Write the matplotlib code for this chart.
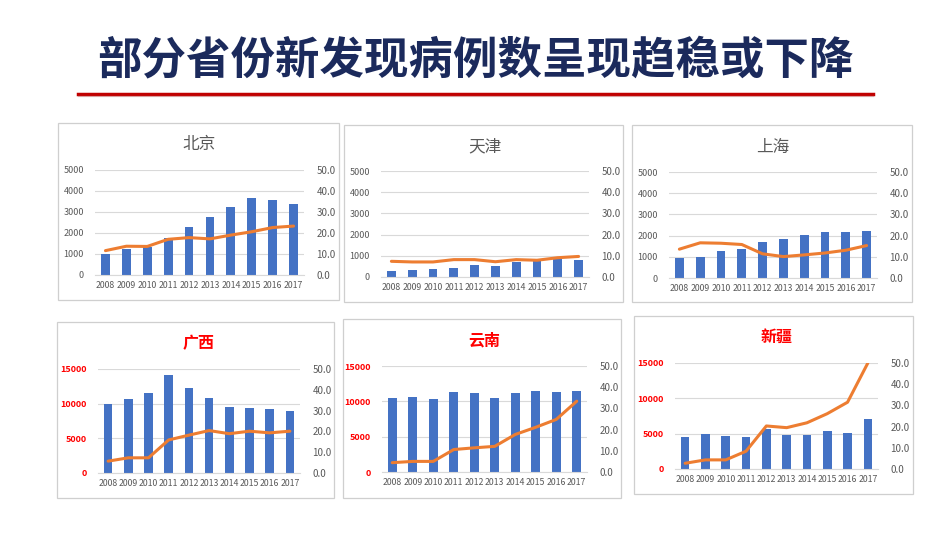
import numpy as np
import matplotlib
matplotlib.use("Agg")
from matplotlib import pyplot as plt
from matplotlib.patches import Rectangle

plt.rcParams['font.family'] = ['Noto Sans CJK SC', 'DejaVu Sans']

years = ["2008", "2009", "2010", "2011", "2012", "2013", "2014", "2015", "2016", "2017"]

# new cases (bars, left axis) and rate (line, right axis)
beijing_cases = [980, 1250, 1350, 1780, 2290, 2770, 3250, 3670, 3560, 3380]
beijing_rate = [11.6, 13.7, 13.6, 17.0, 17.8, 17.2, 19.0, 20.6, 22.6, 23.3]
tianjin_cases = [270, 330, 390, 440, 550, 500, 710, 740, 900, 820]
tianjin_rate = [7.4, 7.1, 7.1, 8.2, 8.2, 7.2, 8.2, 7.9, 9.1, 9.7]
shanghai_cases = [930, 1010, 1290, 1370, 1690, 1830, 2020, 2160, 2160, 2220]
shanghai_rate = [13.6, 16.6, 16.4, 15.8, 11.4, 10.1, 10.9, 11.8, 13.1, 15.3]
guangxi_cases = [9950, 10670, 11580, 14160, 12200, 10860, 9470, 9420, 9190, 8900]
guangxi_rate = [5.7, 7.3, 7.3, 15.9, 18.2, 20.4, 18.9, 20.1, 19.3, 20.1]
yunnan_cases = [10470, 10620, 10380, 11330, 11140, 10520, 11190, 11520, 11370, 11470]
yunnan_rate = [4.4, 5.0, 5.0, 10.6, 11.4, 12.1, 17.7, 21.1, 24.8, 33.4]
xinjiang_cases = [4510, 4890, 4650, 4510, 5700, 4840, 4790, 5360, 5130, 7020]
xinjiang_rate = [2.7, 4.3, 4.3, 8.4, 20.3, 19.5, 21.8, 26.1, 31.5, 50.0]

W, H = 950, 535
fig = plt.figure(figsize=(9.5, 5.35), dpi=100)
fig.patch.set_facecolor("white")

def fx(x):
    return x / W

def fy(y):
    return 1 - y / H

# title and red rule
fig.text(fx(475), fy(60), "部分省份新发现病例数呈现趋稳或下降", ha="center", va="center",
         fontsize=32, fontweight="black", color="#1b2a5c")
fig.add_artist(plt.Line2D([fx(78), fx(873)], [fy(94), fy(94)], color="#c00000", lw=2.5))
fig.add_artist(plt.Line2D([fx(78), fx(873)], [fy(96), fy(96)], color="#d9a0a0", lw=0.8))

BAR = "#4472c4"
LINE = "#ed7d31"
GRAY = "#595959"
RED = "#ff0000"

def panel(box, area, name, cases, rate, ymax, ystep, red):
    l, t, r, b = box
    fig.add_artist(Rectangle((fx(l), fy(b)), fx(r - l), (b - t) / H, transform=fig.transFigure,
                             fill=False, edgecolor="#cfcfcf", lw=0.9))
    x0, y0, x1, y1 = area
    ax = fig.add_axes([fx(x0), fy(y1), fx(x1 - x0), (y1 - y0) / H])
    x = np.arange(len(years))
    ax.bar(x, cases, width=0.42, color=BAR, zorder=2)
    ax.set_xlim(-0.5, 9.5)
    ax.set_ylim(0, ymax)
    ax.set_yticks(np.arange(0, ymax + 1, ystep))
    ax.grid(axis="y", color="#d9d9d9", lw=0.8, zorder=0)
    ax.set_axisbelow(True)
    for s in ax.spines.values():
        s.set_visible(False)
    ax.spines["bottom"].set_visible(True)
    ax.spines["bottom"].set_color("#d9d9d9")
    ax.set_xticks(x)
    ax.set_xticklabels(years)
    ax.tick_params(axis="x", length=0, labelsize=6.3, labelcolor=GRAY, pad=4)
    if red:
        ax.tick_params(axis="y", length=0, labelsize=6.5, labelcolor=RED, pad=8)
        for lab in ax.get_yticklabels():
            lab.set_fontweight("bold")
    else:
        ax.tick_params(axis="y", length=0, labelsize=6.5, labelcolor=GRAY, pad=8)

    ax2 = ax.twinx()
    ax2.plot(x, rate, color=LINE, lw=2.2, solid_joinstyle="round", solid_capstyle="round",
             zorder=3)
    ax2.set_ylim(0, 50)
    ax2.set_yticks(np.arange(0, 51, 10))
    ax2.set_yticklabels(["%.1f" % v for v in np.arange(0, 51, 10)])
    ax2.tick_params(axis="y", length=0, labelsize=7, labelcolor=GRAY, pad=9)
    for s in ax2.spines.values():
        s.set_visible(False)

    cx = (x0 + x1) / 2
    if red:
        fig.text(fx(cx), fy(t + 21), name, ha="center", va="center", fontsize=11.5,
                 fontweight="bold", color=RED)
    else:
        fig.text(fx(cx), fy(t + 22), name, ha="center", va="center", fontsize=12, color=GRAY)

panel((58, 123, 339, 300), (95, 170, 304, 275), "北京", beijing_cases, beijing_rate, 5000, 1000, False)
panel((344, 125, 623, 302), (381, 171, 589, 277), "天津", tianjin_cases, tianjin_rate, 5000, 1000, False)
panel((632, 125, 912, 302), (669, 172, 877, 278), "上海", shanghai_cases, shanghai_rate, 5000, 1000, False)
panel((57, 322, 334, 498), (98, 369, 300, 473), "广西", guangxi_cases, guangxi_rate, 15000, 5000, True)
panel((343, 319, 621, 498), (382, 366, 587, 472), "云南", yunnan_cases, yunnan_rate, 15000, 5000, True)
panel((634, 316, 913, 494), (675, 363, 878, 469), "新疆", xinjiang_cases, xinjiang_rate, 15000, 5000, True)

fig.savefig("out.png", dpi=100, facecolor="white")
